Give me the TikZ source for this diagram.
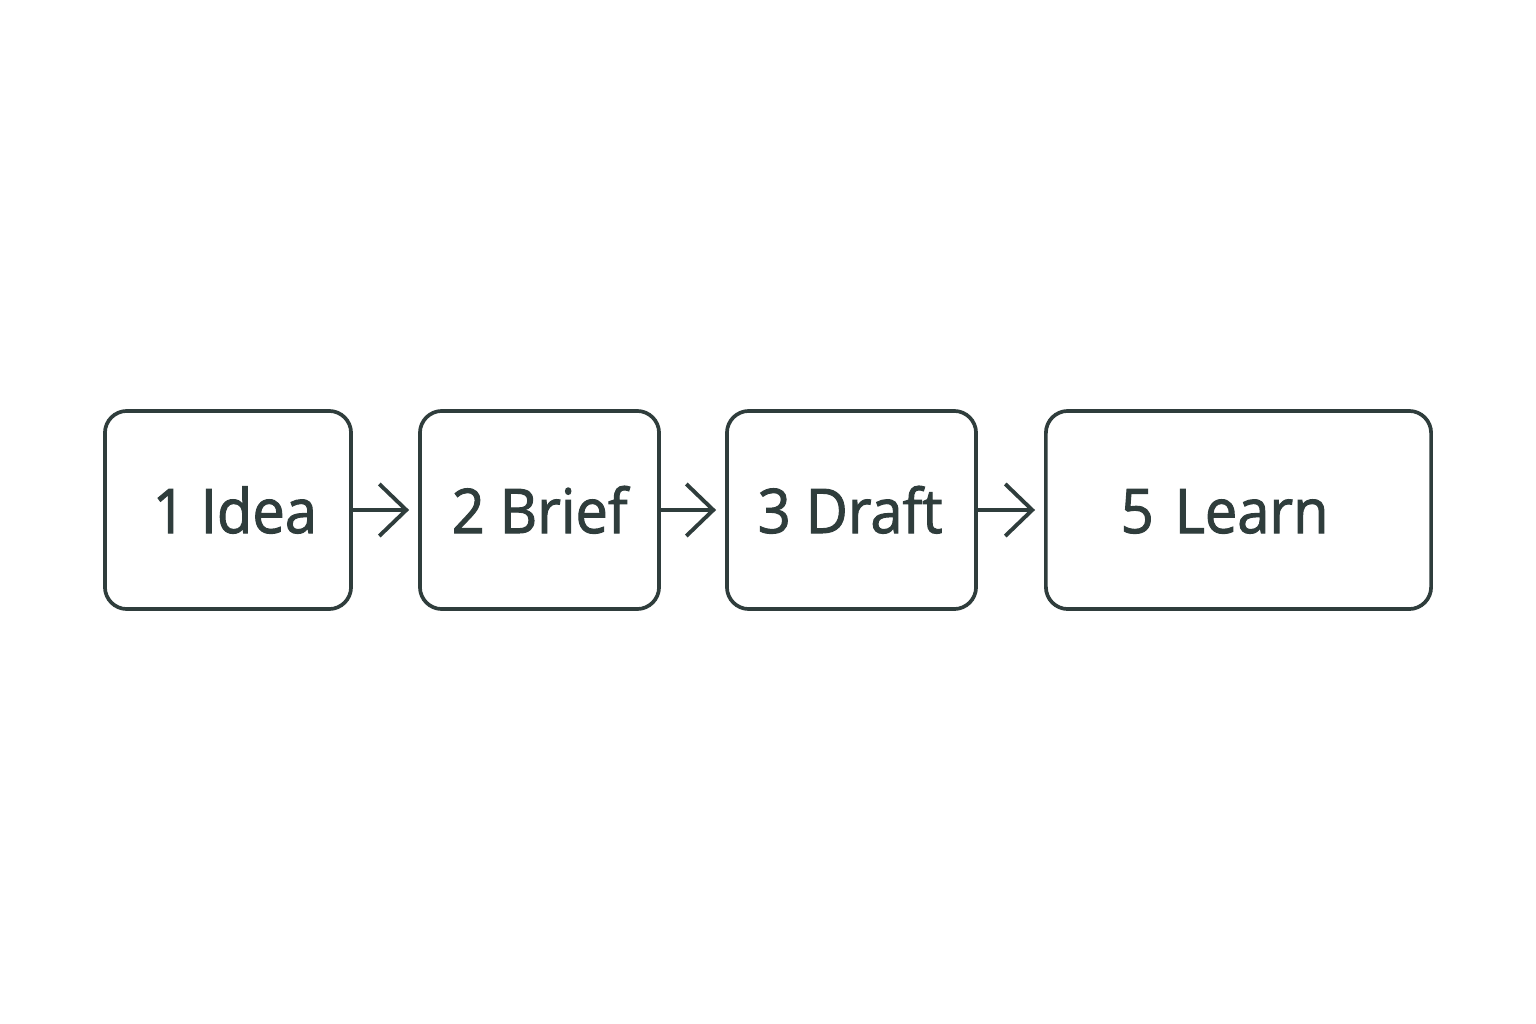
\documentclass[tikz,border=0pt]{standalone}
\usepackage{fontspec}
\setmainfont{Open Sans}
\newfontfamily\lblfont{Open Sans}[FakeStretch=0.94, FakeBold=1.6]
\usetikzlibrary{arrows.meta}
\definecolor{ink}{HTML}{2F3D3C}
\begin{document}
\begin{tikzpicture}[x=0.01cm,y=-0.01cm,
  box/.style={draw=ink, line width=1.05pt, rounded corners=0.22cm, fill=white},
  lbl/.style={text=ink, font=\lblfont\fontsize{17.5}{20}\selectfont, anchor=base west, inner sep=0pt},
  flow/.style={draw=ink, line width=1.1pt, -{Straight Barb[length=0.27cm,width=0.52cm,line width=1.1pt]}, shorten >=0.09cm}]
\useasboundingbox[fill=white] (0,0) rectangle (1536,1024);
\node[box, minimum width=2.46cm, minimum height=1.98cm] (b1) at (228,510) {};
\node[box, minimum width=2.39cm, minimum height=1.98cm] (b2) at (539.5,510) {};
\node[box, minimum width=2.49cm, minimum height=1.98cm] (b3) at (851.5,510) {};
\node[box, minimum width=3.85cm, minimum height=1.98cm] (b4) at (1238.5,510) {};
\node[lbl] (t1) at (152,533) {1 Idea};
\node[lbl] (t2) at (451,533) {2 Brief};
\node[lbl] (t3) at (757,533) {3 Draft};
\node[lbl] (t4) at (1120,533) {5\hspace{0.06cm} Learn};
\draw[flow] (b1.east) -- (b2.west);
\draw[flow] (b2.east) -- (b3.west);
\draw[flow] (b3.east) -- (b4.west);
\end{tikzpicture}
\end{document}
